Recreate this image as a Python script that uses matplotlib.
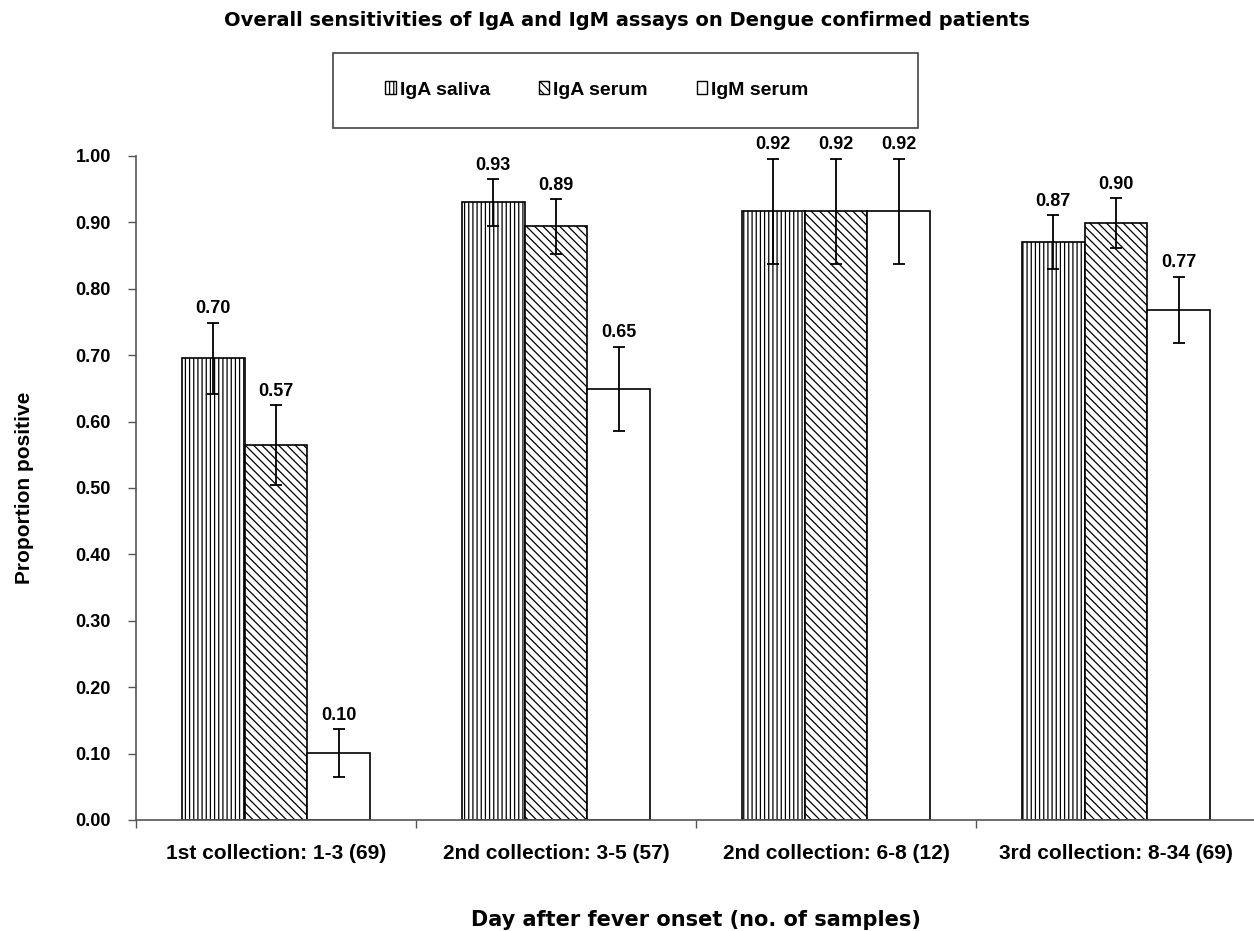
#!/usr/bin/env python
"""
Overall sensitivities of IgA and IgM assays on Dengue confirmed patients.
"""

import matplotlib

matplotlib.use("Agg")
import matplotlib.pyplot as plt
import numpy as np
from matplotlib.patches import Patch, Rectangle

plt.rcParams["font.family"] = ["Liberation Sans", "DejaVu Sans"]
plt.rcParams["font.weight"] = "bold"
plt.rcParams["hatch.linewidth"] = 0.9

categories = [
    "1st collection: 1-3 (69)",
    "2nd collection: 3-5 (57)",
    "2nd collection: 6-8 (12)",
    "3rd collection: 8-34 (69)",
]
series = ["IgA saliva", "IgA serum", "IgM serum"]
iga_saliva = [0.695, 0.930, 0.917, 0.870]
iga_serum = [0.565, 0.894, 0.917, 0.899]
igm_serum = [0.101, 0.649, 0.917, 0.768]
iga_saliva_err = [0.054, 0.035, 0.079, 0.041]
iga_serum_err = [0.060, 0.041, 0.079, 0.037]
igm_serum_err = [0.036, 0.064, 0.079, 0.050]
value_labels = [
    ["0.70", "0.93", "0.92", "0.87"],
    ["0.57", "0.89", "0.92", "0.90"],
    ["0.10", "0.65", "0.92", "0.77"],
]
yticks = np.arange(0, 1.01, 0.1)

values = [iga_saliva, iga_serum, igm_serum]
errors = [iga_saliva_err, iga_serum_err, igm_serum_err]
hatches = ["||||", "\\\\\\\\", ""]

fig = plt.figure(figsize=(12.54, 9.31), dpi=100)
ax = fig.add_axes([0.1085, 0.1193, 0.8930, 0.7132])

x = np.arange(len(categories)) + 0.5
width = 0.224
for i, (vals, errs) in enumerate(zip(values, errors)):
    pos = x + (i - 1) * width
    ax.bar(pos, vals, width, color="white", edgecolor="black", linewidth=1.2,
           hatch=hatches[i], zorder=2)
    ax.errorbar(pos, vals, yerr=errs, fmt="none", ecolor="black",
                elinewidth=1.3, capsize=4, capthick=1.3, zorder=3)
    for p, v, e, lab in zip(pos, vals, errs, value_labels[i]):
        ax.text(p, v + e + 0.008, lab, ha="center", va="bottom",
                fontsize=13, fontweight="bold")

ax.set_xlim(0, len(categories))
ax.set_ylim(0, 1.0)
ax.set_yticks(yticks)
ax.set_yticklabels([f"{t:.2f}" for t in yticks], fontsize=13, fontweight="bold")
ax.set_xticks(np.arange(len(categories) + 1))
ax.set_xticklabels([])
ax.set_xticks(x, minor=True)
ax.set_xticklabels(categories, minor=True, fontsize=15, fontweight="bold")
ax.tick_params(axis="x", which="minor", length=0, pad=17)
ax.tick_params(axis="both", which="major", direction="out", length=6,
               color="#555555", width=1)
ax.tick_params(axis="y", pad=12)

for side in ["top", "right"]:
    ax.spines[side].set_visible(False)
for side in ["left", "bottom"]:
    ax.spines[side].set_color("#555555")
    ax.spines[side].set_linewidth(1.2)

ax.set_ylabel("Proportion positive", fontsize=15, fontweight="bold", labelpad=30)
ax.set_xlabel("Day after fever onset (no. of samples)", fontsize=15,
              family="DejaVu Sans", fontweight="bold", labelpad=34)

fig.text(0.5, 0.9785, "Overall sensitivities of IgA and IgM assays on Dengue confirmed patients",
         ha="center", va="center", fontsize=14, family="DejaVu Sans", fontweight="bold")

# legend box
fig.patches.append(Rectangle((0.2656, 0.8625), 0.4665, 0.0805,
                             transform=fig.transFigure, facecolor="white",
                             edgecolor="#444444", linewidth=1.2))
handles = [Patch(facecolor="white", edgecolor="black", hatch=h, label=s)
           for h, s in zip(hatches, series)]
fig.legend(handles=handles, loc="center", bbox_to_anchor=(0.476, 0.9033),
           ncol=3, frameon=False, fontsize=14, handlelength=0.55,
           handleheight=0.65, handletextpad=0.2, columnspacing=2.5)

fig.savefig("out.png", dpi=100)
